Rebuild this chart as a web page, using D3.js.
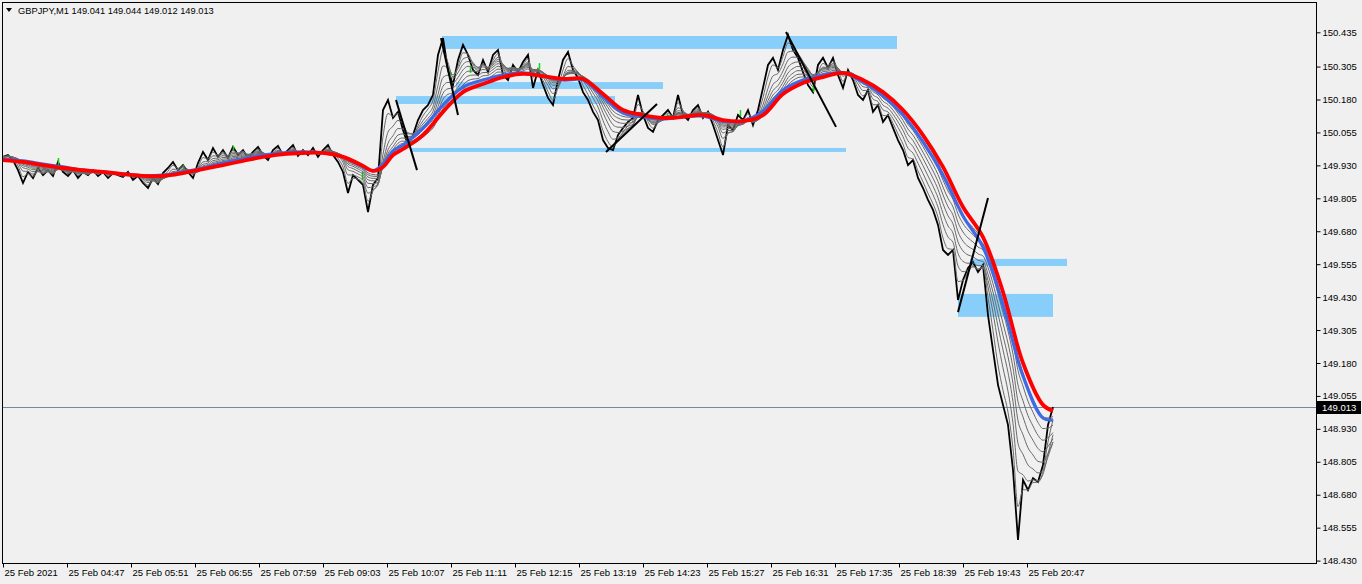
<!DOCTYPE html>
<html><head><meta charset="utf-8">
<script src="https://cdn.jsdelivr.net/npm/d3@7"></script>
<style>
html,body{margin:0;padding:0;background:#f0f0f0;}
svg{display:block;}
text{font-family:"Liberation Sans",Arial,sans-serif;}
</style></head><body>
<svg id="c" width="1362" height="584"></svg>
<script>
// ---------------- data ----------------
const symbol = "GBPJPY,M1";
const ohlc = [149.041, 149.044, 149.012, 149.013];
const lastPrice = 149.013;

const timeBars = [0,64,128,192,256,320,384,448,512,576,640,704,768,832,896,960,1024];
const timeLabels = ["25 Feb 2021","25 Feb 04:47","25 Feb 05:51","25 Feb 06:55","25 Feb 07:59",
  "25 Feb 09:03","25 Feb 10:07","25 Feb 11:11","25 Feb 12:15","25 Feb 13:19","25 Feb 14:23",
  "25 Feb 15:27","25 Feb 16:31","25 Feb 17:35","25 Feb 18:39","25 Feb 19:43","25 Feb 20:47"];

const priceTicks = [150.435,150.305,150.180,150.055,149.930,149.805,149.680,149.555,149.430,
  149.305,149.180,149.055,148.930,148.805,148.680,148.555,148.430];

// close prices, one every 5 one-minute bars
const closeStep = 5;
const closes = [
149.962,149.969,149.950,149.912,149.863,149.905,149.882,149.920,149.893,149.912,
149.890,149.943,149.905,149.890,149.912,149.882,149.905,149.893,149.912,149.890,
149.905,149.882,149.901,149.893,149.886,149.905,149.875,149.890,149.863,149.844,
149.882,149.859,149.901,149.920,149.943,149.912,149.931,149.905,149.882,149.939,
149.981,149.950,149.996,149.962,149.988,149.958,150.000,149.969,149.988,149.958,
149.981,150.000,149.969,149.950,149.988,150.004,149.969,149.988,150.007,149.966,
149.988,149.969,149.996,149.962,149.988,150.007,149.969,149.943,149.905,149.825,
149.893,149.875,149.856,149.753,149.856,149.882,150.140,150.178,150.110,150.133,
150.064,150.007,150.045,150.102,150.140,150.159,150.197,150.349,150.413,150.292,
150.235,150.330,150.387,150.349,150.292,150.273,150.330,150.284,150.349,150.368,
150.273,150.254,150.311,150.284,150.322,150.349,150.224,150.292,150.235,150.186,
150.159,150.254,150.330,150.360,150.292,150.262,150.208,150.178,150.133,150.102,
150.026,149.996,149.988,150.045,150.072,150.095,150.110,150.197,150.121,150.072,
150.057,150.102,150.121,150.140,150.110,150.197,150.121,150.102,150.140,150.159,
150.110,150.133,150.083,150.026,149.969,150.083,150.064,150.121,150.102,150.140,
150.083,150.140,150.224,150.311,150.338,150.292,150.368,150.425,150.368,150.338,
150.284,150.235,150.208,150.311,150.338,150.300,150.338,150.273,150.224,150.292,
150.254,150.197,150.178,150.216,150.133,150.159,150.095,150.121,150.072,150.026,
149.988,149.931,149.950,149.882,149.844,149.799,149.761,149.704,149.609,149.590,
149.609,149.419,149.495,149.541,149.563,149.525,149.552,149.362,149.229,149.097,
149.021,148.945,148.774,148.508,148.736,148.698,148.743,148.728,148.793,148.945,
149.013];

// slow moving averages
const maBars = [0,20,40,60,80,100,120,140,160,180,200,220,240,260,280,300,320,340,360,370,380,390,400,
  420,440,460,480,500,520,540,560,580,600,620,640,660,680,700,720,740,760,780,800,820,840,860,880,900,
  920,940,960,980,1000,1020,1040,1050];
const redMA = [149.950,149.943,149.931,149.920,149.912,149.905,149.897,149.890,149.890,149.901,149.916,
  149.931,149.947,149.962,149.973,149.977,149.977,149.962,149.928,149.909,149.924,149.969,149.992,
  150.045,150.133,150.208,150.239,150.265,150.277,150.269,150.258,150.258,150.201,150.140,150.121,
  150.110,150.114,150.121,150.102,150.098,150.121,150.201,150.243,150.265,150.281,150.254,150.208,
  150.140,150.045,149.924,149.772,149.658,149.449,149.180,149.021,148.998];
const blueMA = [149.954,149.947,149.935,149.924,149.912,149.905,149.897,149.890,149.893,149.905,149.920,
  149.939,149.954,149.969,149.977,149.981,149.977,149.962,149.924,149.909,149.935,149.985,150.007,
  150.072,150.159,150.227,150.254,150.273,150.281,150.269,150.254,150.254,150.190,150.129,150.114,
  150.106,150.114,150.117,150.098,150.098,150.136,150.216,150.254,150.273,150.281,150.246,150.193,
  150.121,150.019,149.893,149.738,149.620,149.400,149.131,148.971,148.964];

// faster moving average periods (in bars) of the grey fan
const fanPeriods = [10,19,28,37,46,55,64,73];

// rectangles: [startBar, endBar, topPrice, bottomPrice]
const zones = [
  [439, 894, 150.421, 150.372],
  [453, 660, 150.246, 150.220],
  [393, 612, 150.193, 150.163],
  [409, 843, 149.996, 149.981],
  [967, 1064, 149.575, 149.548],
  [955, 1050, 149.442, 149.355]
];
// trend lines: [bar1, price1, bar2, price2]
const trendLines = [
  [393, 150.178, 414, 149.912],
  [438, 150.413, 455, 150.121],
  [603, 149.981, 654, 150.163],
  [783, 150.436, 833, 150.076],
  [955, 149.373, 985, 149.806]
];
// green bars: [bar, high, low]
const greenMarks = [
  [55,149.958,149.931],[180,149.931,149.912],[230,150.004,149.988],[359,149.905,149.875],
  [447,150.284,150.262],[467,150.303,150.281],[536,150.318,150.296],[664,150.125,150.106],
  [737,150.140,150.117],[810,150.239,150.208]
];

// ---------------- drawing ----------------
const svg = d3.select("#c");
const L = 2, T = 2, R = 1316, B = 563;
const x = d3.scaleLinear().domain([0, 1313]).range([3, 1316]);
const y = d3.scaleLinear().domain([148.430, 150.435]).range([560.6, 32.3]);

svg.append("rect").attr("width",1362).attr("height",584).attr("fill","#f0f0f0");
svg.append("clipPath").attr("id","clip").append("rect")
  .attr("x",L).attr("y",T).attr("width",R-L).attr("height",B-T);
const plot = svg.append("g").attr("clip-path","url(#clip)");

// zones
plot.selectAll("rect.zone").data(zones).join("rect").attr("class","zone")
  .attr("x",d=>x(d[0])).attr("width",d=>x(d[1])-x(d[0]))
  .attr("y",d=>y(d[2])).attr("height",d=>y(d[3])-y(d[2]))
  .attr("fill","#87cefa");

// current price line
plot.append("line").attr("x1",L).attr("x2",R)
  .attr("y1",Math.round(y(lastPrice))+0.5).attr("y2",Math.round(y(lastPrice))+0.5)
  .attr("stroke","#778899").attr("stroke-width",1);

// price
const pts = closes.map((c,i)=>[i*closeStep, c]);
const line = d3.line().x(d=>x(d[0])).y(d=>y(d[1]));
plot.append("path").attr("d",line(pts)).attr("fill","none")
  .attr("stroke","#000").attr("stroke-width",1.8).attr("stroke-linejoin","miter");

// green marks
plot.selectAll("line.g").data(greenMarks).join("line").attr("class","g")
  .attr("x1",d=>x(d[0])+0.5).attr("x2",d=>x(d[0])+0.5)
  .attr("y1",d=>y(d[1])).attr("y2",d=>y(d[2]))
  .attr("stroke","#00e000").attr("stroke-width",1.5);

// grey fan: exponential averages of the closes
function ema(vals, period){
  const a = 1 - Math.pow(1 - 2/(period+1), closeStep);
  let e = vals[0];
  return vals.map((v,i)=> i===0 ? e : (e = e + a*(v-e)));
}
fanPeriods.forEach(p=>{
  const m = ema(closes, p).map((v,i)=>[i*closeStep, v]);
  plot.append("path").attr("d", d3.line().x(d=>x(d[0])).y(d=>y(d[1])).curve(d3.curveMonotoneX)(m))
    .attr("fill","none").attr("stroke","#6a6a6a").attr("stroke-width",1);
});

const maLine = d3.line().x(d=>x(d[0])).y(d=>y(d[1])).curve(d3.curveCatmullRom);
plot.append("path").attr("d", maLine(maBars.map((b,i)=>[b, blueMA[i]])))
  .attr("fill","none").attr("stroke","#4169e1").attr("stroke-width",3.2);
plot.append("path").attr("d", maLine(maBars.map((b,i)=>[b, redMA[i]])))
  .attr("fill","none").attr("stroke","#ff0000").attr("stroke-width",3.8);

// trend lines
plot.selectAll("line.t").data(trendLines).join("line").attr("class","t")
  .attr("x1",d=>x(d[0])).attr("y1",d=>y(d[1])).attr("x2",d=>x(d[2])).attr("y2",d=>y(d[3]))
  .attr("stroke","#000").attr("stroke-width",2);

// frame
svg.append("rect").attr("x",L+0.5).attr("y",T+0.5).attr("width",R-L).attr("height",B-T)
  .attr("fill","none").attr("stroke","#000").attr("stroke-width",1);

// right axis
const ya = d3.axisRight(y).tickValues(priceTicks).tickFormat(d3.format(".3f")).tickSize(4).tickSizeOuter(0);
const gy = svg.append("g").attr("transform",`translate(${R+0.5},0)`).call(ya);
gy.select(".domain").remove();
gy.selectAll(".tick line").attr("stroke","#000");
gy.selectAll(".tick text").attr("x",6).attr("font-size",9.5).attr("fill","#000")
  .attr("font-family","Liberation Sans, Arial, sans-serif");

// bottom axis
const xa = d3.axisBottom(x).tickValues(timeBars).tickFormat((d,i)=>timeLabels[i]).tickSize(4).tickSizeOuter(0);
const gx = svg.append("g").attr("transform",`translate(0,${B+0.5})`).call(xa);
gx.select(".domain").remove();
gx.selectAll(".tick line").attr("stroke","#000");
gx.selectAll(".tick text").attr("text-anchor","start").attr("x",1).attr("y",6)
  .attr("font-size",9.5).attr("fill","#000").attr("font-family","Liberation Sans, Arial, sans-serif");

// current price label
const ly = Math.round(y(lastPrice));
svg.append("rect").attr("x",R+1).attr("y",ly-6).attr("width",44).attr("height",13).attr("fill","#000");
svg.append("text").attr("x",R+6).attr("y",ly+4).attr("font-size",9.5).attr("fill","#fff").text(d3.format(".3f")(lastPrice));

// header
svg.append("path").attr("d","M6,8 L12,8 L9,12 Z").attr("fill","#000");
svg.append("text").attr("x",18).attr("y",14).attr("font-size",9.3).attr("fill","#000")
  .text(symbol + "  " + ohlc.map(d3.format(".3f")).join(" "));
</script>
</body></html>
